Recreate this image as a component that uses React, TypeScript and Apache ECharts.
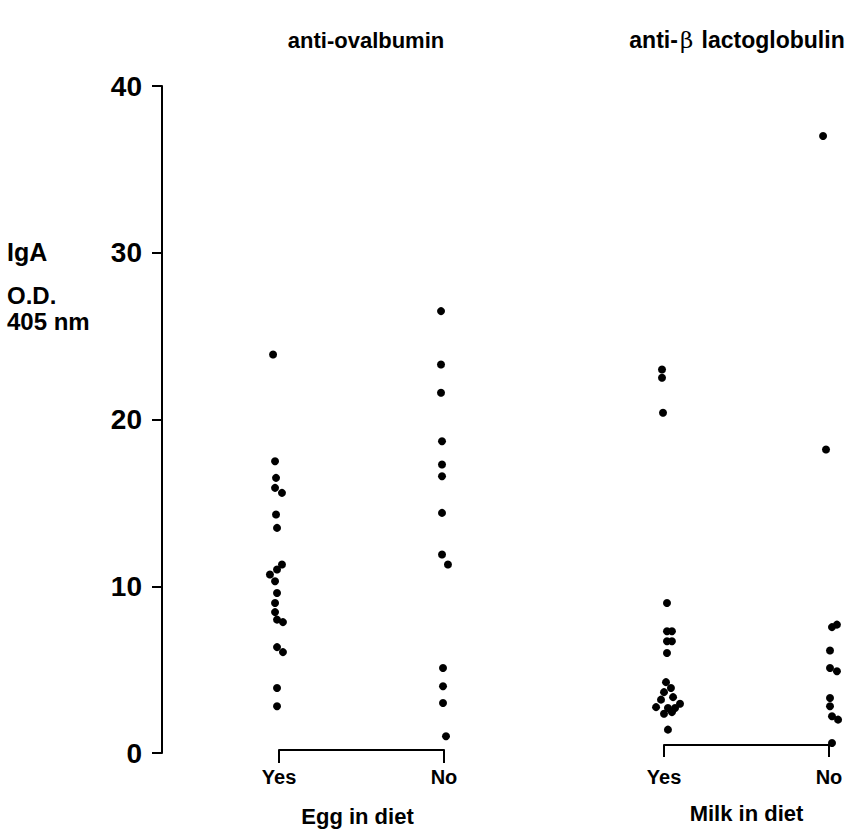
import React, { useEffect, useRef } from "react";
import * as echarts from "echarts";

// Answers shown under each bracket
const dietAnswers = ["Yes", "No"];
const yTicks = [0, 10, 20, 30, 40];

// IgA anti-ovalbumin (O.D. 405 nm), egg in diet: Yes / No
const eggYesValues = [23.9, 17.5, 16.5, 15.9, 15.6, 14.3, 13.5, 11.3, 11.0, 10.7, 10.3, 9.6, 9.0, 8.45, 8.0, 7.85, 6.35, 6.05, 3.9, 2.8];
const eggYesJitter = [-0.036, -0.024, -0.018, -0.024, 0.018, -0.018, -0.012, 0.018, -0.012, -0.055, -0.024, -0.012, -0.024, -0.024, -0.012, 0.024, -0.012, 0.024, -0.012, -0.012];
const eggNoValues = [26.5, 23.3, 21.6, 18.7, 17.3, 16.6, 14.4, 11.9, 11.3, 5.1, 4.0, 3.0, 1.0];
const eggNoJitter = [-0.018, -0.018, -0.018, -0.012, -0.012, -0.012, -0.012, -0.012, 0.024, -0.006, -0.006, -0.006, 0.012];

// IgA anti-beta lactoglobulin (O.D. 405 nm), milk in diet: Yes / No
const milkYesValues = [23.0, 22.5, 20.4, 9.0, 7.3, 7.3, 6.7, 6.7, 6.0, 4.25, 3.9, 3.65, 3.35, 3.2, 2.95, 2.75, 2.7, 2.7, 2.45, 2.35, 1.4];
const milkYesJitter = [-0.012, -0.012, -0.006, 0.018, 0.018, 0.048, 0.018, 0.048, 0.018, 0.012, 0.042, 0.0, 0.055, -0.018, 0.097, -0.048, 0.024, 0.067, 0.048, 0.0, 0.024];
const milkNoValues = [37.0, 18.2, 7.7, 7.55, 6.15, 5.1, 4.9, 3.3, 2.8, 2.2, 2.0, 0.6];
const milkNoJitter = [-0.036, -0.018, 0.048, 0.018, 0.006, 0.006, 0.048, 0.006, 0.006, 0.018, 0.055, 0.018];

const FONT = '"Liberation Sans", Arial, Helvetica, sans-serif';
const INK = "#000";

function points(base: number, values: number[], jitter: number[]) {
  return values.map((v, i) => [base + jitter[i], v]);
}

function dots(gridIndex: number, data: number[][]) {
  return {
    type: "scatter",
    xAxisIndex: gridIndex,
    yAxisIndex: gridIndex,
    data,
    symbol: "circle",
    symbolSize: 8,
    clip: false,
    itemStyle: { color: INK, opacity: 1 },
    silent: true,
  };
}

function bracketAxis(
  gridIndex: number,
  name: string,
  offset: number,
  tickLen: number,
  labelMargin: number,
  nameGap: number,
  namePadding: number[]
) {
  return {
    gridIndex,
    type: "value",
    min: 0,
    max: 1,
    interval: 1,
    offset,
    axisLine: { show: true, onZero: false, lineStyle: { color: INK, width: 2 } },
    axisTick: { show: true, length: tickLen, lineStyle: { color: INK, width: 2 } },
    axisLabel: {
      formatter: (v: number) => dietAnswers[Math.round(v)] ?? "",
      margin: labelMargin,
      fontSize: 20,
      fontWeight: "bold",
      color: INK,
      fontFamily: FONT,
    },
    splitLine: { show: false },
    name,
    nameLocation: "middle",
    nameGap,
    nameTextStyle: { fontSize: 22, fontWeight: "bold", color: INK, fontFamily: FONT, padding: namePadding },
  };
}

export default function App() {
  const ref = useRef<HTMLDivElement>(null);

  useEffect(() => {
    if (!ref.current) return;
    const chart = echarts.init(ref.current, undefined, { renderer: "svg" });
    const option = {
      animation: false,
      backgroundColor: "#ffffff",
      grid: [
        { left: 279, right: 417, top: 86, bottom: 81 },
        { left: 664, right: 32, top: 86, bottom: 81 },
      ],
      xAxis: [
        bracketAxis(0, "Egg in diet", -3, 13, 17, 55, [0, 8, 0, 0]),
        bracketAxis(1, "Milk in diet", -8, 12, 22, 57, [0, 0, 0, 0]),
      ],
      yAxis: [
        {
          gridIndex: 0,
          type: "value",
          min: yTicks[0],
          max: yTicks[yTicks.length - 1],
          interval: 10,
          offset: 117,
          axisLine: { show: true, onZero: false, lineStyle: { color: INK, width: 2 } },
          axisTick: { show: true, length: 10, lineStyle: { color: INK, width: 2 } },
          axisLabel: { margin: 20, fontSize: 28, fontWeight: "bold", color: INK, fontFamily: FONT },
          splitLine: { show: false },
        },
        {
          gridIndex: 1,
          type: "value",
          min: yTicks[0],
          max: yTicks[yTicks.length - 1],
          interval: 10,
          show: false,
          splitLine: { show: false },
        },
      ],
      graphic: [
        {
          type: "text",
          x: 366,
          y: 40,
          style: { text: "anti-ovalbumin", font: `bold 22px ${FONT}`, fill: INK, align: "center", verticalAlign: "middle" },
        },
        {
          type: "text",
          x: 737,
          y: 40,
          style: {
            text: "anti-{b|β} lactoglobulin",
            font: `bold 23px ${FONT}`,
            fill: INK,
            align: "center",
            verticalAlign: "middle",
            rich: { b: { font: `23px "DejaVu Serif", serif`, fill: INK, padding: [0, 2, 0, 2] } },
          },
        },
        { type: "text", x: 7, y: 252, style: { text: "IgA", font: `bold 25px ${FONT}`, fill: INK, verticalAlign: "middle" } },
        { type: "text", x: 7, y: 295, style: { text: "O.D.", font: `bold 24px ${FONT}`, fill: INK, verticalAlign: "middle" } },
        { type: "text", x: 7, y: 321, style: { text: "405 nm", font: `bold 24px ${FONT}`, fill: INK, verticalAlign: "middle" } },
      ],
      series: [
        dots(0, points(0, eggYesValues, eggYesJitter)),
        dots(0, points(1, eggNoValues, eggNoJitter)),
        dots(1, points(0, milkYesValues, milkYesJitter)),
        dots(1, points(1, milkNoValues, milkNoJitter)),
      ],
    };
    chart.setOption(option as any);
    return () => chart.dispose();
  }, []);

  return <div ref={ref} style={{ position: "fixed", left: 0, top: 0, width: 861, height: 834 }} />;
}
